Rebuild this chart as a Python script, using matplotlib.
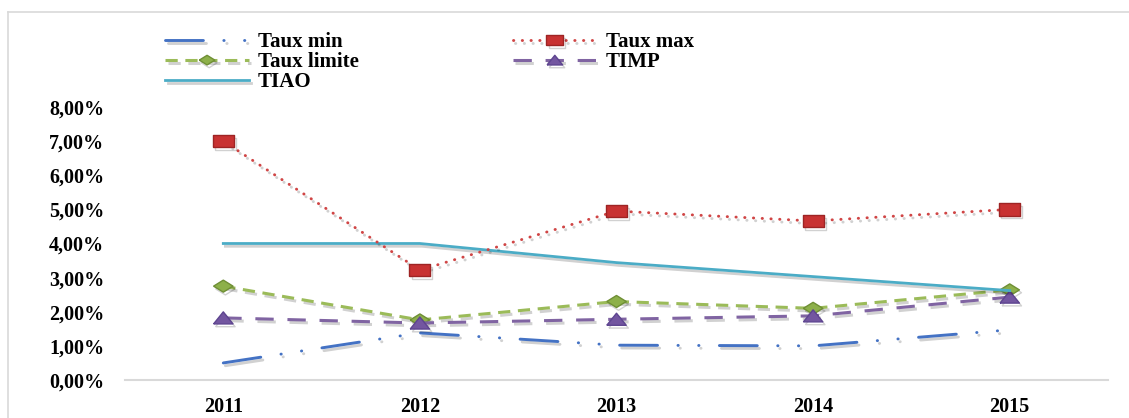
import matplotlib
matplotlib.use('Agg')
import matplotlib.pyplot as plt
import matplotlib.patheffects as pe
from matplotlib.lines import Line2D
import numpy as np

years = ['2011', '2012', '2013', '2014', '2015']
taux_min = [0.50, 1.38, 1.02, 1.00, 1.47]
taux_max = [7.00, 3.22, 4.95, 4.66, 5.00]
taux_limite = [2.75, 1.76, 2.30, 2.10, 2.64]
timp = [1.82, 1.67, 1.78, 1.88, 2.43]
tiao = [4.00, 4.00, 3.44, 3.03, 2.62]
y_ticks = [0, 1, 2, 3, 4, 5, 6, 7, 8]
y_labels = ['0,00%', '1,00%', '2,00%', '3,00%', '4,00%', '5,00%', '6,00%', '7,00%', '8,00%']

W, H = 1129, 418
plt.rcParams['font.family'] = ['Liberation Serif', 'DejaVu Serif']
plt.rcParams['font.weight'] = 'bold'

# wide (flattened) marker shapes, like the stretched original
m_square = [(-1, -0.6), (1, -0.6), (1, 0.6), (-1, 0.6), (-1, -0.6)]
m_diamond = [(-1, 0), (0, 0.62), (1, 0), (0, -0.62), (-1, 0)]
m_triangle = [(-1, -0.62), (1, -0.62), (0, 0.62), (-1, -0.62)]

fig = plt.figure(figsize=(W / 100, H / 100), dpi=100)
ax = fig.add_axes([125 / W, (H - 380) / H, 983 / W, 273 / H])

x = np.arange(len(years))
shadow = [pe.SimpleLineShadow(offset=(1.5, -2), alpha=0.18, shadow_color='black'), pe.Normal()]

l_min, = ax.plot(x, taux_min, color='#4472C4', lw=2.1, dash_capstyle='round',
                 linestyle=(0, (13, 7, 0.1, 7, 0.1, 7)), path_effects=shadow, label='Taux min')
l_limite, = ax.plot(x, taux_limite, color='#9BBB59', lw=2.2, linestyle=(0, (4, 2.5)),
                    marker=m_diamond, markersize=14, markerfacecolor='#8DB04A',
                    markeredgecolor='#6F8F35', path_effects=shadow, label='Taux limite')
l_timp, = ax.plot(x, timp, color='#8064A2', lw=2.2, linestyle=(0, (6, 4.5)),
                  marker=m_triangle, markersize=14, markerfacecolor='#7356A0',
                  markeredgecolor='#5E4590', path_effects=shadow, label='TIMP')
l_tiao, = ax.plot(x, tiao, color='#4BACC6', lw=2.0, linestyle='-',
                  path_effects=shadow, label='TIAO')
l_max, = ax.plot(x, taux_max, color='#D04545', lw=2.1, dash_capstyle='round',
                 linestyle=(0, (0.1, 2.9)),
                 marker=m_square, markersize=15, markerfacecolor='#C83232',
                 markeredgecolor='#9E2424', path_effects=shadow, label='Taux max')

ax.set_xlim(-0.5, len(years) - 0.5)
ax.set_ylim(0, 8)
ax.set_xticks(x)
ax.set_xticklabels(years, fontsize=14.5, fontweight='bold')
ax.set_yticks(y_ticks)
ax.set_yticklabels(y_labels, fontsize=14.5, fontweight='bold')
ax.tick_params(axis='both', length=0)
ax.tick_params(axis='y', pad=15)
ax.tick_params(axis='x', pad=12)
for s in ['top', 'right', 'left']:
    ax.spines[s].set_visible(False)
ax.spines['bottom'].set_color('#D9D9D9')
ax.spines['bottom'].set_linewidth(1.5)

# legend: column-first order gives rows (min, max), (limite, timp), (tiao)
leg = fig.legend([l_min, l_limite, l_tiao, l_max, l_timp],
                 ['Taux min', 'Taux limite', 'TIAO', 'Taux max', 'TIMP'],
                 ncol=2, loc='upper left', bbox_to_anchor=(155 / W, 1 - 22 / H),
                 frameon=False, borderpad=0, handlelength=4.0, handletextpad=0.45,
                 columnspacing=7.4, labelspacing=0.0, markerscale=0.8,
                 prop={'family': 'Liberation Serif', 'weight': 'bold', 'size': 15})

# outer chart frame (left and top edges visible)
fig.add_artist(Line2D([8 / W, 8 / W], [0, 1 - 12 / H], transform=fig.transFigure,
                      color='#D9D9D9', lw=1.2))
fig.add_artist(Line2D([8 / W, 1], [1 - 12 / H, 1 - 12 / H], transform=fig.transFigure,
                      color='#D9D9D9', lw=1.2))

fig.savefig('out.png', dpi=100)
